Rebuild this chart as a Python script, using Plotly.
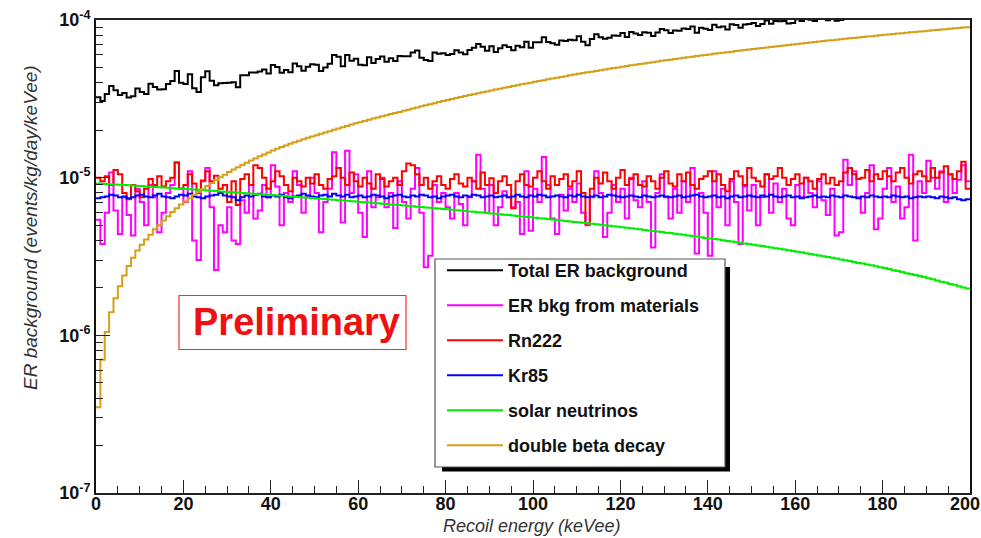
import numpy as np
import plotly.graph_objects as go

# ---------------- data (units of 1e-6 events/kg/day/keVee), 1 keVee bins 0..200 ----------------
bin_width_kev = 1.0
n_bins = 200

materials = [
    5.4, 3.8, 6.0, 10.8, 6.2, 4.4, 7.5, 5.8, 4.3, 8.5,
    7.0, 5.0, 9.0, 7.5, 4.5, 6.0, 8.0, 9.0, 12.5, 8.5,
    7.0, 11.0, 4.0, 3.0, 9.5, 11.5, 6.5, 2.6, 5.0, 4.5,
    6.5, 4.0, 3.8, 7.2, 6.0, 9.0, 5.5, 6.2, 9.0, 7.5,
    12.0, 8.8, 5.0, 8.0, 7.0, 11.0, 9.0, 6.0, 7.5, 10.0,
    8.0, 4.5, 7.0, 8.5, 14.5, 11.5, 5.2, 14.8, 8.0, 10.5,
    6.0, 4.2, 11.0, 6.5, 7.5, 10.0, 6.5, 8.0, 4.8, 9.5,
    7.0, 5.5, 8.5, 11.5, 6.0, 2.7, 3.2, 9.0, 7.0, 8.0,
    6.5, 5.5, 8.0, 6.8, 5.0, 7.5, 9.5, 14.0, 8.5, 6.0,
    9.0, 5.0, 6.5, 8.2, 7.5, 6.5, 7.0, 4.4, 11.0, 4.6,
    8.5, 7.0, 13.5, 9.0, 5.5, 4.4, 7.8, 6.2, 8.5, 7.0,
    9.2, 6.0, 5.0, 7.5, 11.0, 8.0, 4.2, 6.0, 9.0, 7.0,
    8.5, 5.5, 10.0, 7.2, 6.5, 9.5, 7.0, 3.6, 8.0, 10.5,
    7.5, 5.5, 8.5, 6.0, 9.5, 7.0, 11.5, 3.3, 8.0, 6.0,
    3.2, 11.0, 6.5, 8.5, 5.0, 9.5, 7.0, 3.8, 8.8, 6.2,
    9.0, 5.0, 7.5, 10.5, 6.0, 9.2, 7.0, 8.5, 5.5, 5.0,
    9.0, 7.5, 10.0, 8.0, 6.5, 9.5, 7.2, 5.8, 8.5, 4.3,
    4.5, 13.0, 9.0, 11.0, 7.5, 6.0, 8.0, 12.0, 4.7, 5.5,
    8.5, 11.5, 7.0, 8.8, 5.5, 6.5, 14.0, 4.0, 9.5, 8.0,
    12.8, 10.0, 8.5, 11.0, 7.0, 10.5, 8.0, 9.7, 12.0, 9.5,
]

rn222 = [
    10.0, 9.5, 10.2, 9.0, 11.2, 10.5, 8.0, 7.3, 9.0, 8.2,
    7.5, 8.5, 9.8, 9.0, 10.2, 8.8, 9.5, 10.0, 12.5, 8.5,
    9.0, 10.5, 9.2, 8.0, 9.6, 11.0, 9.5, 10.3, 8.5, 9.0,
    7.0, 9.5, 6.7, 9.8, 10.5, 9.0, 12.0, 11.5, 10.0, 8.5,
    9.5, 11.0, 10.2, 9.0, 8.2, 10.0, 9.5, 8.8, 10.0, 9.2,
    10.5, 9.0, 8.5, 9.8, 10.2, 11.5, 10.0, 9.0, 10.8, 9.5,
    8.8, 10.0, 9.2, 8.5, 10.5, 9.8, 8.8, 9.5, 10.0, 9.0,
    11.0, 12.3, 12.0, 10.5, 9.0, 10.0, 8.5, 9.5, 10.2, 9.0,
    8.5, 9.8, 10.5, 9.2, 8.8, 10.0, 9.5, 8.5, 10.8, 9.0,
    9.9, 8.0, 9.5, 10.2, 9.0, 6.4, 9.5, 10.5, 9.0, 8.8,
    10.0, 11.0, 9.5, 8.5, 10.2, 9.0, 9.8, 10.5, 8.8, 9.5,
    11.0, 8.0, 5.1, 8.5, 10.0, 9.2, 10.8, 9.5, 8.5, 10.0,
    11.2, 9.0, 9.8, 10.5, 9.0, 8.8, 10.2, 9.5, 8.5, 10.0,
    11.0, 9.2, 8.8, 10.5, 9.5, 10.8, 9.0, 8.5, 9.8, 10.2,
    11.0, 9.5, 10.5, 9.0, 8.2, 9.8, 11.0, 10.2, 9.0, 11.5,
    10.0, 9.5, 8.8, 10.5, 9.8, 10.2, 11.5, 10.0, 9.0, 9.8,
    10.5, 9.2, 10.0, 9.5, 8.5, 9.8, 10.5, 9.2, 10.0, 9.0,
    9.5, 10.8, 11.5, 10.5, 9.8, 10.0, 11.2, 9.5, 10.5, 9.8,
    11.0, 10.2, 9.5, 10.8, 11.5, 10.0, 9.2, 10.5, 11.0, 10.2,
    9.5, 11.5, 10.0, 10.8, 11.8, 10.5, 9.8, 11.0, 12.6, 8.5,
]

kr85 = [
    7.4, 7.5, 7.6, 7.8, 7.7, 7.5, 7.6, 7.4, 7.5, 7.7,
    7.8, 7.6, 7.5, 7.7, 7.9, 7.6, 7.5, 7.4, 7.6, 7.8,
    7.7, 7.9, 7.6, 7.5, 7.4, 7.6, 7.7, 7.8, 8.0, 7.7,
    7.6, 7.5, 7.2, 7.5, 7.7, 7.6, 7.8, 7.9, 7.6, 7.5,
    7.7, 7.6, 7.8, 7.5, 7.4, 7.6, 7.7, 7.9, 7.7, 7.6,
    7.5, 7.7, 7.8, 7.6, 7.9, 7.7, 7.6, 7.8, 7.5, 7.6,
    7.7, 7.5, 7.6, 7.8, 7.7, 7.6, 7.4, 7.6, 7.7, 7.8,
    7.6, 7.5, 7.7, 7.6, 7.8, 7.7, 7.5, 7.6, 7.4, 7.6,
    7.7, 7.8, 7.6, 7.5, 7.7, 7.6, 7.8, 7.7, 7.5, 7.6,
    7.7, 7.5, 7.6, 7.7, 7.5, 7.6, 7.8, 7.6, 7.5, 7.7,
    7.6, 7.8, 7.7, 7.5, 7.6, 7.7, 7.6, 7.5, 7.7, 7.6,
    7.8, 7.6, 7.5, 7.6, 7.7, 7.5, 7.6, 7.8, 7.7, 7.6,
    7.5, 7.6, 7.7, 7.6, 7.5, 7.7, 7.6, 7.5, 7.6, 7.7,
    7.6, 7.5, 7.6, 7.7, 7.5, 7.6, 7.7, 7.8, 7.6, 7.5,
    7.6, 7.7, 7.5, 7.6, 7.4, 7.6, 7.7, 7.5, 7.6, 7.7,
    7.6, 7.5, 7.7, 7.6, 7.8, 7.6, 7.5, 7.6, 7.7, 7.5,
    7.6, 7.4, 7.5, 7.6, 7.7, 7.5, 7.6, 7.5, 7.7, 7.6,
    7.5, 7.7, 7.6, 7.5, 7.4, 7.6, 7.5, 7.7, 7.6, 7.5,
    7.6, 7.5, 7.7, 7.6, 7.5, 7.6, 7.4, 7.5, 7.6, 7.5,
    7.6, 7.5, 7.4, 7.6, 7.5, 7.4, 7.5, 7.3, 7.2, 7.3,
]

solar_nu = [
    9.20, 9.16, 9.13, 9.09, 9.05, 9.02, 8.98, 8.95, 8.91, 8.87,
    8.84, 8.80, 8.76, 8.73, 8.69, 8.66, 8.62, 8.58, 8.55, 8.51,
    8.47, 8.44, 8.40, 8.37, 8.33, 8.29, 8.26, 8.22, 8.18, 8.15,
    8.11, 8.07, 8.04, 8.00, 7.97, 7.93, 7.89, 7.86, 7.82, 7.78,
    7.75, 7.71, 7.68, 7.64, 7.60, 7.57, 7.53, 7.49, 7.46, 7.42,
    7.39, 7.35, 7.31, 7.28, 7.24, 7.20, 7.17, 7.13, 7.09, 7.06,
    7.02, 6.99, 6.95, 6.91, 6.88, 6.84, 6.80, 6.77, 6.73, 6.70,
    6.66, 6.62, 6.59, 6.55, 6.51, 6.48, 6.44, 6.40, 6.37, 6.33,
    6.30, 6.26, 6.22, 6.19, 6.15, 6.11, 6.08, 6.04, 6.01, 5.97,
    5.93, 5.90, 5.86, 5.82, 5.79, 5.75, 5.72, 5.68, 5.64, 5.61,
    5.57, 5.53, 5.50, 5.46, 5.42, 5.39, 5.35, 5.32, 5.28, 5.24,
    5.21, 5.17, 5.13, 5.10, 5.06, 5.03, 4.99, 4.95, 4.92, 4.88,
    4.84, 4.81, 4.77, 4.74, 4.70, 4.66, 4.63, 4.59, 4.55, 4.52,
    4.48, 4.45, 4.41, 4.37, 4.34, 4.30, 4.26, 4.23, 4.19, 4.15,
    4.12, 4.08, 4.05, 4.01, 3.97, 3.94, 3.90, 3.86, 3.83, 3.79,
    3.76, 3.72, 3.68, 3.65, 3.61, 3.57, 3.54, 3.50, 3.46, 3.43,
    3.39, 3.36, 3.32, 3.28, 3.25, 3.21, 3.17, 3.14, 3.10, 3.07,
    3.03, 2.99, 2.96, 2.92, 2.88, 2.85, 2.81, 2.78, 2.74, 2.70,
    2.67, 2.63, 2.59, 2.56, 2.52, 2.48, 2.45, 2.41, 2.38, 2.34,
    2.30, 2.27, 2.23, 2.19, 2.16, 2.12, 2.09, 2.05, 2.01, 1.98,
]

double_beta = [
    0.35, 0.70, 1.05, 1.40, 1.72, 2.05, 2.40, 2.75, 3.10, 3.45,
    3.75, 4.05, 4.35, 4.70, 5.00, 5.35, 5.70, 6.05, 6.40, 6.75,
    7.05, 7.40, 7.75, 8.10, 8.45, 8.85, 9.25, 9.65, 10.05, 10.45,
    10.85, 11.25, 11.65, 12.05, 12.45, 12.85, 13.25, 13.65, 14.05, 14.45,
    14.85, 15.25, 15.65, 16.00, 16.40, 16.75, 17.15, 17.50, 17.90, 18.25,
    18.60, 19.00, 19.35, 19.70, 20.10, 20.50, 20.90, 21.30, 21.70, 22.10,
    22.50, 22.90, 23.30, 23.70, 24.10, 24.50, 24.90, 25.30, 25.70, 26.10,
    26.55, 27.00, 27.45, 27.90, 28.35, 28.80, 29.25, 29.70, 30.15, 30.60,
    31.05, 31.50, 32.00, 32.45, 32.90, 33.40, 33.85, 34.30, 34.80, 35.25,
    35.75, 36.20, 36.70, 37.15, 37.65, 38.10, 38.60, 39.10, 39.55, 40.05,
    40.55, 41.05, 41.55, 42.05, 42.55, 43.05, 43.55, 44.05, 44.55, 45.05,
    45.55, 46.05, 46.55, 47.05, 47.55, 48.05, 48.55, 49.05, 49.55, 50.05,
    50.55, 51.05, 51.55, 52.05, 52.55, 53.05, 53.55, 54.05, 54.55, 55.05,
    55.55, 56.05, 56.55, 57.05, 57.55, 58.05, 58.55, 59.05, 59.55, 60.05,
    60.50, 61.00, 61.50, 62.00, 62.50, 63.00, 63.50, 64.00, 64.50, 65.00,
    65.50, 66.00, 66.50, 67.00, 67.50, 68.00, 68.50, 69.00, 69.50, 70.00,
    70.50, 71.00, 71.50, 72.00, 72.50, 73.00, 73.50, 74.00, 74.50, 75.00,
    75.50, 76.00, 76.50, 77.00, 77.50, 78.00, 78.50, 79.00, 79.50, 80.00,
    80.50, 81.00, 81.50, 82.00, 82.50, 83.00, 83.50, 84.00, 84.50, 85.00,
    85.50, 86.00, 86.50, 87.00, 87.50, 88.00, 88.50, 89.00, 89.50, 90.00,
]

unit = 1e-6
series_names = ["Total ER background", "ER bkg from materials", "Rn222", "Kr85",
                "solar neutrinos", "double beta decay"]
x_tick_values = [0, 20, 40, 60, 80, 100, 120, 140, 160, 180, 200]
y_tick_values = [1e-7, 1e-6, 1e-5, 1e-4]
y_tick_labels = ["10<sup>-7</sup>", "10<sup>-6</sup>", "10<sup>-5</sup>", "10<sup>-4</sup>"]

# ---------------- build ----------------
edges = np.arange(n_bins + 1) * bin_width_kev
comp = {
    "ER bkg from materials": np.array(materials) * unit,
    "Rn222": np.array(rn222) * unit,
    "Kr85": np.array(kr85) * unit,
    "solar neutrinos": np.array(solar_nu) * unit,
    "double beta decay": np.array(double_beta) * unit,
}
total = sum(comp.values())
hist = {"Total ER background": total, **comp}

colors = {
    "Total ER background": "#000000",
    "ER bkg from materials": "#ff00ff",
    "Rn222": "#ff0000",
    "Kr85": "#0000ff",
    "solar neutrinos": "#00ee00",
    "double beta decay": "#d4a017",
}

# the last label is drawn separately (right-aligned to the page edge, as in the original)
x_tick_text = [str(v) for v in x_tick_values[:-1]] + [""]
last_x_label = str(x_tick_values[-1])

FONT = "Liberation Sans, Arial, sans-serif"
fig = go.Figure()
for i, name in enumerate(series_names):
    v = hist[name]
    fig.add_trace(go.Scatter(
        x=edges, y=np.append(v, v[-1]), mode="lines", name=name,
        line=dict(color=colors[name], width=2, shape="hv"),
        legendgroup=f"g{i}",
    ))

W, H = 981, 538
ml, mr, mt, mb = 96, 11, 20, 45
pw, ph = W - ml - mr, H - mt - mb


def px(x):
    return (x - ml) / pw


def py(y):
    return (H - mb - y) / ph


minor_vals = [m * 10.0 ** e for e in (-7, -6, -5) for m in range(2, 10)]

fig.update_layout(
    width=W, height=H,
    margin=dict(l=ml, r=mr, t=mt, b=mb, autoexpand=False),
    paper_bgcolor="white", plot_bgcolor="white",
    font=dict(family=FONT, color="#000"),
    showlegend=True,
    legend=dict(
        x=px(442), y=py(252), xanchor="left", yanchor="top",
        bgcolor="rgba(0,0,0,0)", borderwidth=0,
        font=dict(size=18, family=FONT, color="#111", weight="bold"),
        itemwidth=56, tracegroupgap=8.6,
    ),
    xaxis=dict(
        range=[0, 200], tickvals=x_tick_values, ticktext=x_tick_text,
        ticks="inside", ticklen=13,
        tickwidth=1.3, tickcolor="#222", ticklabeloverflow="allow", automargin=False,
        ticklabelstandoff=-6,
        tickfont=dict(size=18, family=FONT, weight="bold", color="#111"),
        showline=True, linecolor="#222", linewidth=1.5, mirror=True,
        showgrid=False, zeroline=False,
        minor=dict(dtick=5, ticks="inside", ticklen=7, tickcolor="#222", showgrid=False),
    ),
    yaxis=dict(
        type="log", range=[-7, -4], tickvals=y_tick_values, ticktext=y_tick_labels,
        ticks="inside", ticklen=14, tickwidth=1.3, tickcolor="#222",
        ticklabeloverflow="allow", automargin=False,
        tickfont=dict(size=18, family=FONT, weight="bold", color="#111"),
        showline=True, linecolor="#111", linewidth=2, mirror=True,
        showgrid=False, zeroline=False,
        minor=dict(tickvals=minor_vals, ticks="inside", ticklen=7, tickcolor="#222",
                   showgrid=False),
    ),
    shapes=[
        # legend shadow and box
        dict(type="rect", xref="paper", yref="paper", layer="above",
             x0=px(442), x1=px(730), y0=py(471.5), y1=py(267),
             fillcolor="#000", line=dict(width=0)),
        dict(type="rect", xref="paper", yref="paper", layer="above",
             x0=px(435), x1=px(725), y0=py(467), y1=py(259),
             fillcolor="white", line=dict(color="#555", width=1.2)),
        # Preliminary box
        dict(type="rect", xref="paper", yref="paper", layer="above",
             x0=px(179), x1=px(406), y0=py(349.5), y1=py(295.5),
             fillcolor="white", line=dict(color="#e33", width=1.2)),
    ],
    annotations=[
        dict(text="Preliminary", xref="paper", yref="paper", x=px(296), y=py(322),
             showarrow=False, xanchor="center", yanchor="middle",
             font=dict(size=38, family=FONT, color="#ee1111", weight="bold")),
        dict(text="<i>ER background (events/kg/day/keVee)</i>", xref="paper", yref="paper",
             x=px(30), y=py(228), textangle=-90, showarrow=False,
             xanchor="center", yanchor="middle",
             font=dict(size=19, family=FONT, color="#333")),
        dict(text="<i>Recoil energy (keVee)</i>", xref="paper", yref="paper",
             x=px(531), y=py(526), showarrow=False, xanchor="center", yanchor="middle",
             font=dict(size=18, family=FONT, color="#333")),
        dict(text=last_x_label, xref="paper", yref="paper", x=px(981), y=py(504),
             showarrow=False, xanchor="right", yanchor="middle", borderpad=0,
             font=dict(size=18, family=FONT, color="#111", weight="bold")),
    ],
)

fig.write_html("out.html")
